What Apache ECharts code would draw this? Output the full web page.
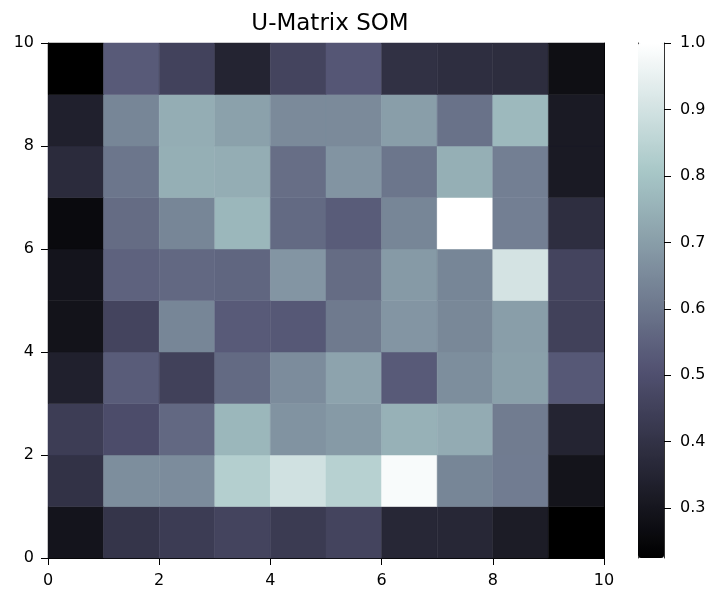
<!DOCTYPE html>
<html>
<head>
<meta charset="utf-8">
<script src="https://cdn.jsdelivr.net/npm/echarts@6/dist/echarts.min.js"></script>
<style>html,body{margin:0;padding:0;background:#fff;}#c{width:709px;height:590px;}</style>
</head>
<body>
<div id="c"></div>
<script>
// U-Matrix values, one array per map row (row0 = bottom, y 0..1), columns x = 0..9
const row0 = [0.295, 0.41, 0.435, 0.46, 0.43, 0.46, 0.36, 0.36, 0.32, 0.225];
const row1 = [0.40, 0.66, 0.655, 0.833, 0.895, 0.84, 0.985, 0.64, 0.617, 0.293];
const row2 = [0.437, 0.49, 0.565, 0.765, 0.675, 0.69, 0.75, 0.735, 0.615, 0.35];
const row3 = [0.337, 0.535, 0.45, 0.57, 0.655, 0.715, 0.53, 0.66, 0.705, 0.525];
const row4 = [0.29, 0.46, 0.64, 0.53, 0.525, 0.61, 0.68, 0.645, 0.70, 0.45];
const row5 = [0.295, 0.55, 0.565, 0.56, 0.68, 0.575, 0.69, 0.64, 0.905, 0.46];
const row6 = [0.26, 0.575, 0.64, 0.764, 0.57, 0.535, 0.64, 1.0, 0.625, 0.385];
const row7 = [0.375, 0.60, 0.745, 0.74, 0.58, 0.677, 0.60, 0.745, 0.624, 0.315];
const row8 = [0.337, 0.64, 0.74, 0.71, 0.65, 0.65, 0.70, 0.59, 0.77, 0.315];
const row9 = [0.225, 0.53, 0.455, 0.35, 0.46, 0.52, 0.395, 0.385, 0.38, 0.275];
const rows = [row0, row1, row2, row3, row4, row5, row6, row7, row8, row9];

const xTicks = [0, 2, 4, 6, 8, 10];
const yTicks = [0, 2, 4, 6, 8, 10];
const cbarTicks = [0.3, 0.4, 0.5, 0.6, 0.7, 0.8, 0.9, 1.0];
const titleText = 'U-Matrix SOM';

const cells = [];
rows.forEach((r, y) => r.forEach((v, x) => cells.push([x, y, v])));
const allV = cells.map(c => c[2]);
const vMin = Math.min(...allV), vMax = Math.max(...allV);

// matplotlib "bone" colormap
function seg(pts, t) {
  for (let i = 1; i < pts.length; i++) {
    if (t <= pts[i][0]) {
      const a = pts[i - 1], b = pts[i];
      return a[1] + (b[1] - a[1]) * (t - a[0]) / (b[0] - a[0]);
    }
  }
  return pts[pts.length - 1][1];
}
function bone(t) {
  const r = seg([[0, 0], [0.746032, 0.652778], [1, 1]], t);
  const g = seg([[0, 0], [0.365079, 0.319444], [0.746032, 0.777778], [1, 1]], t);
  const b = seg([[0, 0], [0.365079, 0.444444], [1, 1]], t);
  const h = v => Math.round(v * 255).toString(16).padStart(2, '0');
  return '#' + h(r) + h(g) + h(b);
}
const boneColors = [];
for (let i = 0; i <= 200; i++) boneColors.push(bone(i / 200));

const font = 'DejaVu Sans';
const tickFont = 16;
const chart = echarts.init(document.getElementById('c'), null, { renderer: 'canvas' });
chart.setOption({
  backgroundColor: '#fff',
  animation: false,
  title: {
    text: titleText, left: 325, top: 8, textAlign: 'center',
    textStyle: { fontFamily: font, fontSize: 23, fontWeight: 'normal', color: '#000' }
  },
  grid: [
    { left: 48, right: 105, top: 43, bottom: 32, show: false },
    { left: 638, width: 26, top: 43, height: 515, show: false }
  ],
  xAxis: [
    { gridIndex: 0, type: 'value', min: 0, max: 10, interval: 2, position: 'bottom',
      splitLine: { show: false },
      axisLine: { show: true, onZero: false, lineStyle: { color: '#000', width: 1 } },
      axisTick: { show: true, length: 7, inside: false, lineStyle: { color: '#000' } },
      axisLabel: { fontFamily: font, fontSize: tickFont, color: '#000', margin: 15,
        customValues: xTicks, formatter: v => String(v) } },
    { gridIndex: 0, type: 'value', min: 0, max: 10, position: 'top',
      splitLine: { show: false }, axisTick: { show: false }, axisLabel: { show: false },
      axisLine: { show: true, onZero: false, lineStyle: { color: '#000', width: 1 } } },
    { gridIndex: 1, type: 'value', min: 0, max: 1, show: false }
  ],
  yAxis: [
    { gridIndex: 0, type: 'value', min: 0, max: 10, interval: 2, position: 'left',
      splitLine: { show: false },
      axisLine: { show: true, onZero: false, lineStyle: { color: '#000', width: 1 } },
      axisTick: { show: true, length: 7, lineStyle: { color: '#000' } },
      axisLabel: { fontFamily: font, fontSize: tickFont, color: '#000', margin: 14,
        customValues: yTicks, formatter: v => String(v) } },
    { gridIndex: 0, type: 'value', min: 0, max: 10, position: 'right',
      splitLine: { show: false }, axisTick: { show: false }, axisLabel: { show: false },
      axisLine: { show: true, onZero: false, lineStyle: { color: '#000', width: 1 } } },
    { gridIndex: 1, type: 'value', min: vMin, max: vMax, position: 'right',
      splitLine: { show: false },
      axisLine: { show: true, onZero: false, lineStyle: { color: '#333', width: 1 } },
      axisTick: { show: true, length: 7, lineStyle: { color: '#000' }, customValues: cbarTicks },
      axisLabel: { fontFamily: font, fontSize: tickFont, color: '#000', margin: 16,
        customValues: cbarTicks, formatter: v => v.toFixed(1) } },
    { gridIndex: 1, type: 'value', min: vMin, max: vMax, position: 'left',
      splitLine: { show: false }, axisTick: { show: false }, axisLabel: { show: false },
      axisLine: { show: true, onZero: false, lineStyle: { color: '#333', width: 1 } } }
  ],
  visualMap: {
    type: 'continuous', min: vMin, max: vMax, dimension: 2, seriesIndex: 0,
    calculable: false, realtime: false, hoverLink: false,
    orient: 'vertical', left: 638, top: 43, itemWidth: 26, itemHeight: 515,
    padding: 0, text: null, showLabel: false,
    inRange: { color: boneColors }
  },
  series: [{
    type: 'custom',
    xAxisIndex: 0, yAxisIndex: 0,
    encode: { x: 0, y: 1 },
    data: cells,
    renderItem: function (params, api) {
      const x = api.value(0), y = api.value(1);
      const p0 = api.coord([x, y + 1]);
      const p1 = api.coord([x + 1, y]);
      return {
        type: 'rect',
        shape: { x: p0[0], y: p0[1], width: p1[0] - p0[0], height: p1[1] - p0[1] },
        style: { fill: api.visual('color'), stroke: api.visual('color'), lineWidth: 0.5 }
      };
    }
  }]
});
</script>
</body>
</html>
